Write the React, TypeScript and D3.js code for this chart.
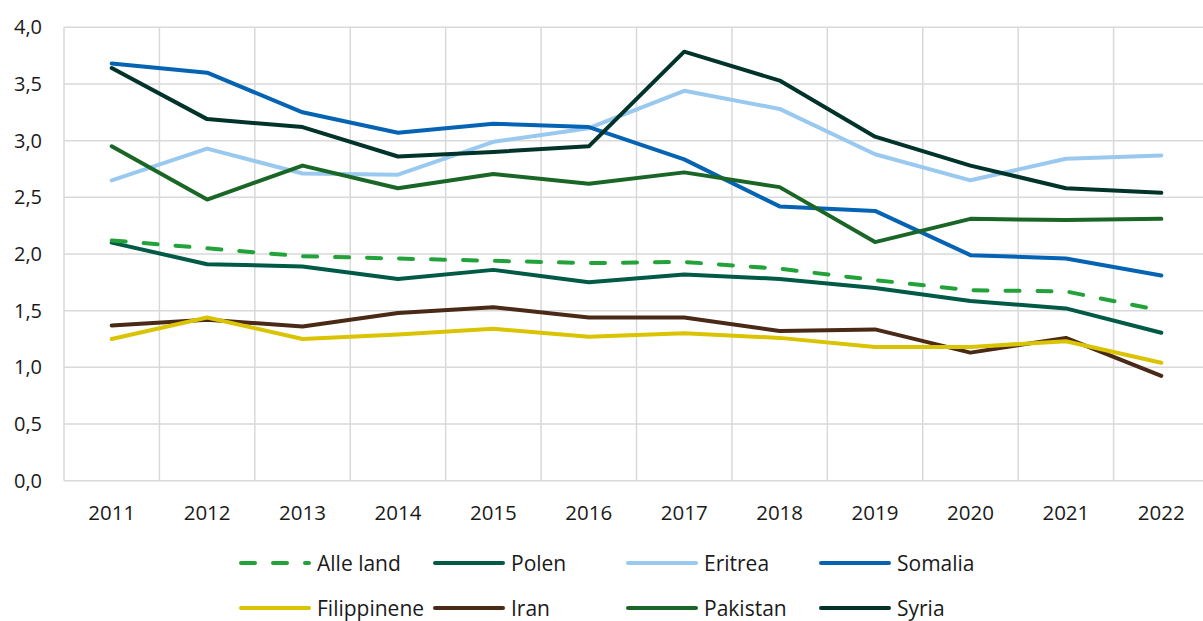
import React, { useEffect, useRef } from 'react';
import * as d3 from 'd3';

const years = ['2011', '2012', '2013', '2014', '2015', '2016', '2017', '2018', '2019', '2020', '2021', '2022'];
const yTicks = [0, 0.5, 1, 1.5, 2, 2.5, 3, 3.5, 4];

const alleLand = [2.12, 2.05, 1.98, 1.96, 1.94, 1.92, 1.93, 1.87, 1.77, 1.68, 1.67, 1.5];
const polen = [2.1, 1.91, 1.89, 1.78, 1.86, 1.75, 1.82, 1.78, 1.7, 1.585, 1.52, 1.305];
const eritrea = [2.65, 2.93, 2.71, 2.7, 2.99, 3.11, 3.44, 3.28, 2.88, 2.65, 2.84, 2.87];
const somalia = [3.68, 3.6, 3.25, 3.07, 3.15, 3.12, 2.835, 2.42, 2.38, 1.99, 1.96, 1.81];
const filippinene = [1.25, 1.44, 1.25, 1.29, 1.34, 1.27, 1.3, 1.26, 1.18, 1.18, 1.23, 1.04];
const iran = [1.37, 1.42, 1.36, 1.48, 1.53, 1.44, 1.44, 1.32, 1.335, 1.13, 1.26, 0.925];
const pakistan = [2.95, 2.48, 2.78, 2.58, 2.705, 2.62, 2.72, 2.59, 2.105, 2.31, 2.3, 2.31];
const syria = [3.64, 3.19, 3.12, 2.86, 2.9, 2.95, 3.785, 3.53, 3.035, 2.78, 2.58, 2.54];

interface Series {
  name: string;
  color: string;
  values: number[];
  dashed?: boolean;
}

// legend order (row by row); drawing order puts Alle land on top
const series: Series[] = [
  { name: 'Alle land', color: '#22a33a', values: alleLand, dashed: true },
  { name: 'Polen', color: '#005a46', values: polen },
  { name: 'Eritrea', color: '#99c9ee', values: eritrea },
  { name: 'Somalia', color: '#0563b3', values: somalia },
  { name: 'Filippinene', color: '#dac300', values: filippinene },
  { name: 'Iran', color: '#4a2916', values: iran },
  { name: 'Pakistan', color: '#1a6626', values: pakistan },
  { name: 'Syria', color: '#00332a', values: syria },
];

const W = 1203;
const H = 621;
const plot = { left: 64, right: 1209, top: 27.3, bottom: 480.7 };
const font = "'Open Sans', 'Noto Sans', sans-serif";

export default function App() {
  const ref = useRef<SVGSVGElement>(null);

  useEffect(() => {
    const svg = d3.select(ref.current);
    svg.selectAll('*').remove();

    const x = d3.scaleBand<string>().domain(years).range([plot.left, plot.right]);
    const y = d3.scaleLinear().domain([0, 4]).range([plot.bottom, plot.top]);
    const cx = (d: string) => (x(d) as number) + x.bandwidth() / 2;

    const grid = svg.append('g').attr('stroke', '#d9d9d9').attr('stroke-width', 1.5);
    grid.selectAll('line.h')
      .data(yTicks)
      .enter().append('line')
      .attr('x1', plot.left).attr('x2', plot.right)
      .attr('y1', d => y(d)).attr('y2', d => y(d));
    const edges = years.map(d => x(d) as number).concat([plot.right]);
    grid.selectAll('line.v')
      .data(edges)
      .enter().append('line')
      .attr('x1', d => d).attr('x2', d => d)
      .attr('y1', plot.top).attr('y2', plot.bottom);

    svg.append('g')
      .selectAll('text')
      .data(yTicks)
      .enter().append('text')
      .attr('x', 42)
      .attr('y', d => y(d) + 7)
      .attr('text-anchor', 'end')
      .attr('font-family', font)
      .attr('font-size', 20)
      .attr('fill', '#1a1a1a')
      .text(d => d3.format('.1f')(d).replace('.', ','));

    svg.append('g')
      .selectAll('text')
      .data(years)
      .enter().append('text')
      .attr('x', d => cx(d))
      .attr('y', 520)
      .attr('text-anchor', 'middle')
      .attr('font-family', font)
      .attr('font-size', 20.5)
      .attr('fill', '#1a1a1a')
      .text(d => d);

    const line = d3.line<number>()
      .x((_, i) => cx(years[i]))
      .y(d => y(d));

    const drawOrder = [2, 3, 7, 6, 1, 5, 4, 0];
    svg.append('g')
      .selectAll('path')
      .data(drawOrder.map(i => series[i]))
      .enter().append('path')
      .attr('d', d => line(d.values))
      .attr('fill', 'none')
      .attr('stroke', d => d.color)
      .attr('stroke-width', 4)
      .attr('stroke-linecap', 'round')
      .attr('stroke-linejoin', 'round')
      .attr('stroke-dasharray', d => (d.dashed ? '14 18' : null));

    const legendX = [239, 433, 626, 819];
    const legendY = [563, 608];
    const legend = svg.append('g')
      .selectAll('g')
      .data(series)
      .enter().append('g')
      .attr('transform', (_, i) => `translate(${legendX[i % 4]}, ${legendY[Math.floor(i / 4)]})`);
    legend.append('line')
      .attr('x1', 2).attr('x2', 70)
      .attr('stroke', d => d.color)
      .attr('stroke-width', 4)
      .attr('stroke-linecap', 'round')
      .attr('stroke-dasharray', d => (d.dashed ? '14 18' : null));
    legend.append('text')
      .attr('x', 78)
      .attr('y', 7.5)
      .attr('font-family', font)
      .attr('font-size', 21)
      .attr('fill', '#1a1a1a')
      .text(d => d.name);
  }, []);

  return (
    <svg
      ref={ref}
      width={W}
      height={H}
      style={{ position: 'absolute', left: 0, top: 0, background: '#fff' }}
    />
  );
}
